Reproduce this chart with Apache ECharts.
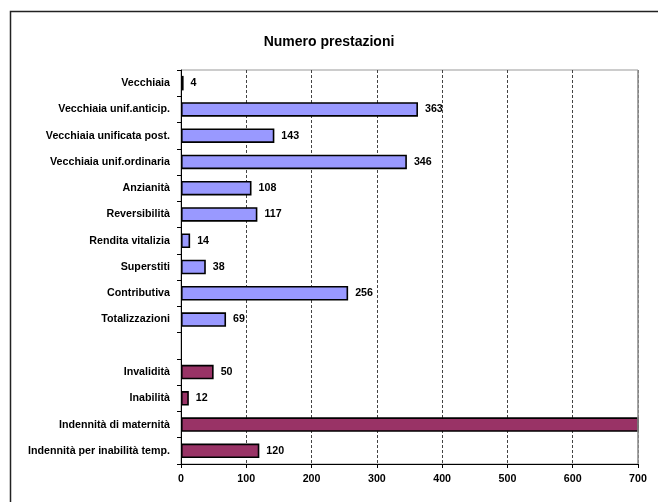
<!DOCTYPE html>
<html><head><meta charset="utf-8">
<script src="https://cdn.jsdelivr.net/npm/echarts@6/dist/echarts.min.js"></script>
<style>html,body{margin:0;padding:0;background:#fff}#c{width:658px;height:502px}</style>
</head><body><div id="c"></div>
<script>
const titleText = 'Numero prestazioni';
const categories = ['Vecchiaia','Vecchiaia unif.anticip.','Vecchiaia unificata post.','Vecchiaia unif.ordinaria','Anzianità','Reversibilità','Rendita vitalizia','Superstiti','Contributiva','Totalizzazioni','','Invalidità','Inabilità','Indennità di maternità','Indennità per inabilità temp.'];
const values = [4,363,143,346,108,117,14,38,256,69,null,50,12,1250,120];
const groups = ['a','a','a','a','a','a','a','a','a','a','-','b','b','b','b'];
const xTicks = [0,100,200,300,400,500,600,700];
const colorA = '#9999FF', colorB = '#993366';

const chart = echarts.init(document.getElementById('c'));
const font = 'Liberation Sans, Arial, sans-serif';
const xMax = xTicks[xTicks.length-1];
const data = values.map((v,i)=>({
  value: v,
  itemStyle: {color: groups[i]==='b'?colorB:colorA},
  label: {show: v!==null && v<=xMax}
}));
chart.setOption({
  animation:false,
  title:{text:titleText,left:'center',top:30,textStyle:{fontFamily:font,fontSize:14,fontWeight:'bold',color:'#000'}},
  graphic:[{type:'rect',shape:{x:10.5,y:11.5,width:700,height:600},style:{fill:'none',stroke:'#222',lineWidth:1.5},silent:true}],
  grid:{left:181,right:20,top:70,bottom:38,show:true,borderColor:'#999',borderWidth:1,backgroundColor:'transparent'},
  xAxis:{type:'value',min:xTicks[0],max:xMax,interval:100,
    axisLine:{show:true,lineStyle:{color:'#000'}},
    axisTick:{show:true,length:4,lineStyle:{color:'#000'}},
    axisLabel:{fontFamily:font,fontSize:10.7,fontWeight:'bold',color:'#000',margin:10,formatter:v=>String(v)},
    splitLine:{show:true,lineStyle:{color:'#444',type:[3,2],width:1}}},
  yAxis:{type:'category',inverse:true,data:categories,
    axisLine:{show:true,lineStyle:{color:'#000'}},
    axisTick:{show:true,length:4,lineStyle:{color:'#000'}},
    axisLabel:{fontFamily:font,fontSize:10.7,fontWeight:'bold',color:'#000',margin:11}},
  series:[{type:'bar',data:data,barWidth:14.5,clip:true,
    itemStyle:{borderColor:'#000',borderWidth:1.6},
    label:{position:'right',distance:7,fontFamily:font,fontSize:10.7,fontWeight:'bold',color:'#000'},
    markLine:{silent:true,symbol:'none',label:{show:false},lineStyle:{color:'#999',type:'solid',width:1.5},data:[{xAxis:xMax}]}}
  ]
});
</script></body></html>
